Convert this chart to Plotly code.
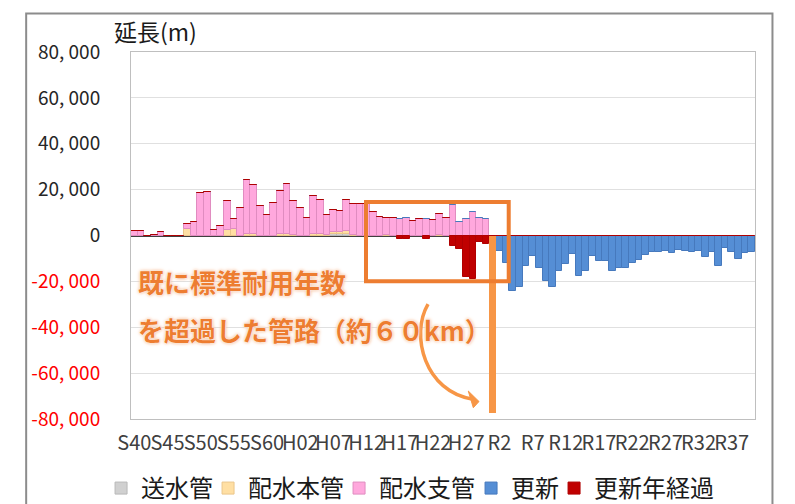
import plotly.graph_objects as go

# ---- categories (fiscal years, Japanese eras) ----
years = ([f"S{n}" for n in range(40, 64)] +
         [f"H{n:02d}" for n in range(1, 31)] +
         [f"R{n}" for n in range(1, 41)])
tick_labels = years[::5]

# ---- series values (m) ----
souisui = [0]*30 + [800, 800, 700] + [0]*61                      # 送水管
haisui_hon = ([0]*8 + [3000, 0, 0, 0, 0, 0, 2600, 2900, 0, 700, 700, 0, 0, 0,
               800, 800, 400, 0, 0, 700, 700, 300, 800, 700, 1100, 300, 0, 0, 0, 0,
               400, 0, 0, 0, 0, 0, 0, 0, 400] + [0]*47)          # 配水本管
haisui_shi = [1900, 1800, 0, 400, 1700, 0, 0, 0, 1800, 6000,
              18400, 19100, 2600, 4350, 12500, 4500, 11900, 23300, 21500, 13000,
              9000, 14200, 18800, 21700, 14700, 11900, 7800, 16700, 14700, 8700,
              9600, 9300, 13500, 13400, 13700, 13700, 10300, 8200, 7100, 7500,
              7100, 7500, 6500, 7100, 7100, 6700, 8900, 7500, 13200, 5800,
              7100, 10300, 7700, 7100] + [0]*40                  # 配水支管
koushin = [0]*55 + [-6900, -11900, -24100, -22300, -13200, -9100, -14200, -19700,
                    -22300, -15400, -12300, -8000, -17500, -15400, -9000, -11200,
                    -11200, -15400, -14000, -14100, -11900, -10600, -8400, -7400,
                    -7400, -6800, -7500, -6400, -6800, -7000, -6800, -9300, -7300,
                    -13200, -5500, -7100, -10200, -7500, -7000]  # 更新
koushin_keika = ([0]*40 + [-1700, -1700, 0, 0, -1700, 0, 0, 0, -4700, -6100,
                           -18000, -19000, -2800, -3900] + [0]*40)  # 更新年経過
overdue_total = [0]*54 + [-77400] + [0]*39                      # 超過管路（約60km）

y_ticks = [80000, 60000, 40000, 20000, 0, -20000, -40000, -60000, -80000]

FONT = "Noto Sans CJK JP"


def fmt(v):
    s = f"{abs(v):,}".replace(",", ", ")
    if v < 0:
        return f"<span style='color:#FF0000'>-{s}</span>"
    return s


fig = go.Figure()
series = [
    ("送水管", souisui, "#D0D0D0", "#B8B8B8", 62),
    ("配水本管", haisui_hon, "#FFDFA3", "#EBC68A", 86),
    ("配水支管", haisui_shi, "#FFA8DD", "#E08CC0", 87),
    ("更新", koushin, "#558ED5", "#4679BD", 38),
    ("更新年経過", koushin_keika, "#C00000", "#B00000", None),
]
for name, vals, col, lcol, lw in series:
    fig.add_trace(go.Bar(x=years, y=vals, name=name, legendwidth=lw,
                         marker=dict(color=col, line=dict(color=lcol, width=1))))
fig.add_trace(go.Bar(x=years, y=overdue_total, name="超過管路", showlegend=False,
                     marker=dict(color="#F79646", line=dict(width=0))))

shapes = [
    # translucent text box behind annotation
    dict(type="rect", xref="paper", yref="paper", x0=-0.003, x1=0.60, y0=0.19, y1=0.452,
         fillcolor="rgba(255,255,255,0.8)", line=dict(width=0), layer="between"),
    # orange highlight box
    dict(type="rect", xref="x", yref="y", x0=34.9, x1=56.4, y0=-19900, y1=14600,
         line=dict(color="#ED7D31", width=4), fillcolor="rgba(0,0,0,0)", layer="above"),
    # curved arrow
    dict(type="path", xref="paper", yref="paper",
         path="M 0.476,0.313 C 0.447,0.229 0.471,0.0735 0.548,0.054",
         line=dict(color="#F79646", width=3.5), layer="above"),
    dict(type="path", xref="paper", yref="paper",
         path="M 0.5405,0.0762 L 0.5577,0.0476 L 0.5486,0.0308 Z",
         fillcolor="#F79646", line=dict(color="#F79646", width=1), layer="above"),
    # outer chart frame
    dict(type="rect", xref="paper", yref="paper", x0=-0.168, x1=1.028, y0=-0.3, y1=1.105,
         line=dict(color="#8C8C8C", width=2), fillcolor="rgba(0,0,0,0)", layer="below"),
]

glow = "0 0 1px #FFFFFF, 0 0 2px #FFFFFF, 0 0 3px #F4B183, 0 0 4px #F8CBAD"
annotations = [
    dict(text="延長(m)", xref="paper", yref="paper", x=-0.031, y=1.057,
         xanchor="left", yanchor="middle", showarrow=False,
         font=dict(family=FONT, size=23, color="#1A1A1A")),
    dict(text="<b>既に標準耐用年数</b>", xref="paper", yref="paper", x=0.008, y=0.376,
         xanchor="left", yanchor="middle", showarrow=False,
         font=dict(family=FONT, size=26, color="#ED7D31", shadow=glow)),
    dict(text="<b>を超過した管路（約６０km）</b>", xref="paper", yref="paper", x=0.008, y=0.243,
         xanchor="left", yanchor="middle", showarrow=False,
         font=dict(family=FONT, size=26, color="#ED7D31", shadow=glow)),
]

fig.update_layout(
    width=795, height=504,
    margin=dict(l=131, r=40, t=52, b=85, autoexpand=False),
    paper_bgcolor="white", plot_bgcolor="white",
    barmode="relative", bargap=0,
    font=dict(family=FONT, color="#262626"),
    shapes=shapes, annotations=annotations,
    showlegend=True,
    legend=dict(orientation="h", x=-0.048, xanchor="left", y=-0.128, yanchor="top",
                font=dict(family=FONT, size=24, color="#1A1A1A"),
                bgcolor="rgba(0,0,0,0)", traceorder="normal", itemwidth=30),
    xaxis=dict(type="category", categoryorder="array", categoryarray=years,
               tickmode="array", tickvals=tick_labels, ticktext=tick_labels,
               tickangle=0, ticks="", ticklabelstandoff=6,
               tickfont=dict(family=FONT, size=20, color="#404040"),
               showgrid=False, showline=True, linecolor="#BFBFBF", linewidth=1,
               mirror=True, range=[-0.5, 93.5]),
    yaxis=dict(range=[-80000, 80000], tickmode="array", tickvals=y_ticks,
               ticktext=[fmt(v) for v in y_ticks], ticks="", ticklabelstandoff=26,
               tickfont=dict(family=FONT, size=19, color="#262626"),
               showgrid=True, gridcolor="#E0E0E0", gridwidth=1,
               zeroline=True, zerolinecolor="#404040", zerolinewidth=1.5,
               showline=True, linecolor="#BFBFBF", linewidth=1, mirror=True),
)

fig.write_html("out.html")
